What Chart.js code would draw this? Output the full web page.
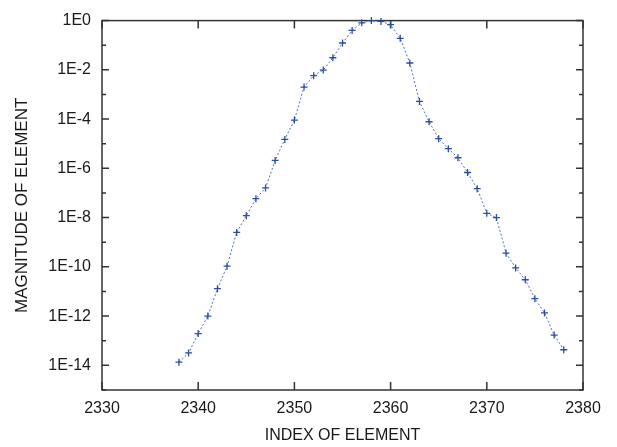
<!DOCTYPE html>
<html>
<head>
<meta charset="utf-8">
<script src="https://cdn.jsdelivr.net/npm/chart.js@4/dist/chart.umd.min.js"></script>
<style>
  html, body { margin: 0; padding: 0; background: #fff; }
  #wrap { width: 617px; height: 447px; }
</style>
</head>
<body>
<div id="wrap"><canvas id="myChart" width="617" height="447"></canvas></div>
<script>
// element index and magnitude
var indices = [2338, 2339, 2340, 2341, 2342, 2343, 2344, 2345, 2346, 2347,
  2348, 2349, 2350, 2351, 2352, 2353, 2354, 2355, 2356, 2357,
  2358, 2359, 2360, 2361, 2362, 2363, 2364, 2365, 2366, 2367,
  2368, 2369, 2370, 2371, 2372, 2373, 2374, 2375, 2376, 2377, 2378]
var magnitudes = [1.35e-14, 3.2e-14, 1.95e-13, 1.0e-12, 1.3e-11, 1.07e-10, 2.5e-9, 1.2e-8, 5.9e-8, 1.6e-7,
  2.1e-6, 1.5e-5, 9.1e-5, 2.0e-3, 5.8e-3, 9.8e-3, 3.1e-2, 0.123, 0.4, 0.81,
  1.0, 0.93, 0.68, 0.19, 1.9e-2, 5.2e-4, 7.8e-5, 1.6e-5, 6.3e-6, 2.7e-6,
  6.8e-7, 1.5e-7, 1.5e-8, 1.0e-8, 3.6e-10, 9.1e-11, 3.0e-11, 5.1e-12, 1.35e-12, 1.7e-13, 4.3e-14]
var xTicks = [2330, 2340, 2350, 2360, 2370, 2380]
var yDecades = [0, -1, -2, -3, -4, -5, -6, -7, -8, -9, -10, -11, -12, -13, -14, -15]

var points = []
for (var i = 0; i < indices.length; i++) {
  points.push({x: indices[i], y: magnitudes[i]})
}

var frameColor = '#333'
var textColor = '#1a1a1a'
var fontFamily = '"Liberation Sans", Arial, sans-serif'

// gnuplot-like box with inward ticks
var framePlugin = {
  id: 'frame',
  beforeDatasetsDraw: function(chart) {
    var ctx = chart.ctx
    var a = chart.chartArea
    var xs = chart.scales.x
    var ys = chart.scales.y
    ctx.save()
    ctx.strokeStyle = frameColor
    ctx.lineWidth = 1.5
    ctx.strokeRect(a.left, a.top, a.right - a.left, a.bottom - a.top)
    ctx.beginPath()
    xTicks.forEach(function(v) {
      var px = xs.getPixelForValue(v)
      ctx.moveTo(px, a.bottom); ctx.lineTo(px, a.bottom - 8)
      ctx.moveTo(px, a.top); ctx.lineTo(px, a.top + 8)
    })
    yDecades.forEach(function(e) {
      var py = ys.getPixelForValue(Math.pow(10, e))
      var len = (e % 2 === 0) ? 7 : 4
      ctx.moveTo(a.left, py); ctx.lineTo(a.left + len, py)
      ctx.moveTo(a.right, py); ctx.lineTo(a.right - len, py)
    })
    ctx.stroke()
    ctx.restore()
  }
}

var chart = new Chart('myChart', {
  type: 'line',
  data: {
    datasets: [{
      data: points,
      borderColor: '#4a70c4',
      borderWidth: 1,
      borderDash: [2, 2],
      pointStyle: 'cross',
      pointRadius: 3.5,
      pointBorderWidth: 1.3,
      pointBorderColor: '#2b4fa0',
      pointBackgroundColor: '#2b4fa0',
      tension: 0,
      clip: false
    }]
  },
  options: {
    responsive: false,
    animation: false,
    layout: { padding: { left: 0, right: 34, top: 15, bottom: 0 } },
    plugins: { legend: { display: false }, tooltip: { enabled: false } },
    scales: {
      x: {
        type: 'linear',
        min: 2330,
        max: 2380,
        afterBuildTicks: function(scale) {
          scale.ticks = xTicks.map(function(v) { return {value: v} })
        },
        afterFit: function(scale) { scale.height = 57 },
        grid: { display: false, drawTicks: false },
        border: { display: false },
        ticks: {
          padding: 9,
          color: textColor,
          maxRotation: 0,
          font: { family: fontFamily, size: 16 },
          callback: function(value) { return String(value) }
        },
        title: {
          display: true,
          text: 'INDEX OF ELEMENT',
          color: textColor,
          padding: { top: 0, bottom: 2 },
          font: { family: fontFamily, size: 16 }
        }
      },
      y: {
        type: 'logarithmic',
        min: 1e-15,
        max: 1,
        afterBuildTicks: function(scale) {
          scale.ticks = yDecades.map(function(e) { return {value: Math.pow(10, e)} })
        },
        afterFit: function(scale) { scale.width = 102 },
        grid: { display: false, drawTicks: false },
        border: { display: false },
        ticks: {
          padding: 11,
          color: textColor,
          autoSkip: false,
          font: { family: fontFamily, size: 16 },
          callback: function(value) {
            var e = Math.round(Math.log10(value))
            return (e % 2 === 0 && e > -15) ? '1E' + e : ''
          }
        },
        title: {
          display: true,
          text: 'MAGNITUDE OF ELEMENT',
          color: textColor,
          padding: { top: 12, bottom: 0 },
          font: { family: fontFamily, size: 17 }
        }
      }
    }
  },
  plugins: [framePlugin]
})
</script>
</body>
</html>
